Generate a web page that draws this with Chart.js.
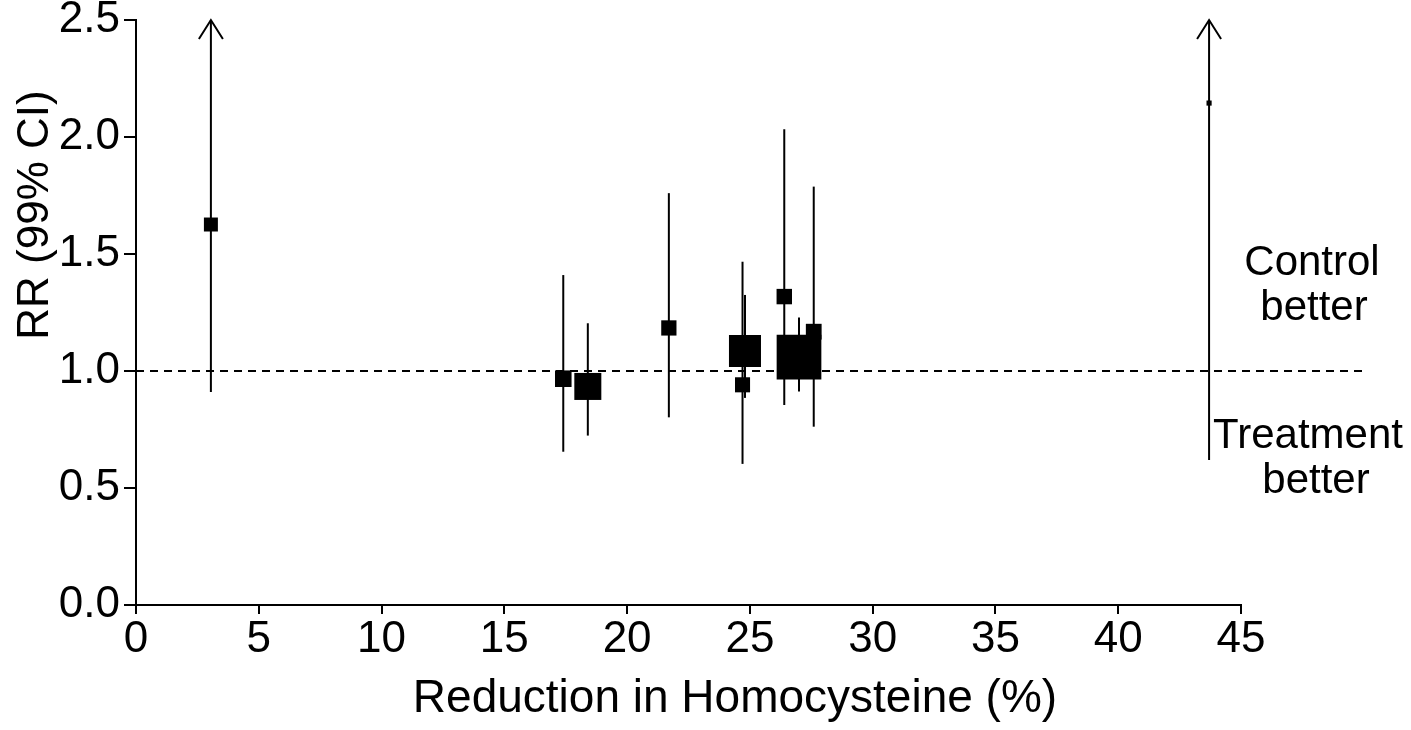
<!DOCTYPE html>
<html>
<head>
<meta charset="utf-8">
<script src="https://cdn.jsdelivr.net/npm/chart.js@4.4.0/dist/chart.umd.min.js"></script>
<style>
  html, body { margin: 0; padding: 0; background: #ffffff; }
  #wrap { width: 1411px; height: 730px; position: relative; }
</style>
</head>
<body>
<div id="wrap"><canvas id="c" width="1411" height="730"></canvas></div>
<script>
// ---- data ----
const reduction = [3.05, 17.4, 18.4, 21.7, 24.7, 24.8, 26.4, 27.0, 27.6, 43.7];   // % reduction in homocysteine
const rr        = [1.626, 0.967, 0.934, 1.184, 0.941, 1.085, 1.318, 1.059, 1.168, 2.145];
const ciLow     = [0.91, 0.655, 0.724, 0.802, 0.603, 0.885, 0.855, 0.912, 0.762, 0.62];
const ciHigh    = [null, 1.41, 1.204, 1.76, 1.467, 1.325, 2.033, 1.229, 1.788, null]; // null = beyond the axis (arrow)
const weights   = [3.7, 5.2, 13.8, 4.4, 4.3, 19.4, 4.5, 37.8, 4.7, 0.5];           // relative study weight (%)
const xTickValues = [0, 5, 10, 15, 20, 25, 30, 35, 40, 45];
const yTickValues = [0.0, 0.5, 1.0, 1.5, 2.0, 2.5];
const referenceRR = 1.0;
const referenceXRange = [0, 50];
const xTitle = 'Reduction in Homocysteine (%)';
const yTitle = 'RR (99% CI)';
const upperNote = ['Control', 'better'];
const lowerNote = ['Treatment', 'better'];

// ---- styling ----
const FONT = "'Liberation Sans', Arial, Helvetica, sans-serif";
const xMin = xTickValues[0], xMax = xTickValues[xTickValues.length - 1];
const yMin = yTickValues[0], yMax = yTickValues[yTickValues.length - 1];
const sideFactor = 7.27; // square side (px) per sqrt(weight)

const datasets = [];
// squares
datasets.push({
  type: 'scatter',
  label: 'RR',
  data: reduction.map((x, i) => ({ x: x, y: rr[i] })),
  pointStyle: 'rect',
  pointRadius: weights.map(w => Math.sqrt(w) * sideFactor / (2 * Math.SQRT1_2)),
  pointHoverRadius: weights.map(w => Math.sqrt(w) * sideFactor / (2 * Math.SQRT1_2)),
  backgroundColor: '#000',
  borderWidth: 0,
  order: 0
});
// CI lines
reduction.forEach((x, i) => {
  datasets.push({
    type: 'line',
    label: 'CI ' + i,
    data: [{ x: x, y: ciLow[i] }, { x: x, y: ciHigh[i] === null ? yMax : ciHigh[i] }],
    borderColor: '#000',
    borderWidth: 2,
    pointRadius: 0,
    fill: false,
    clip: false,
    order: 1
  });
});
// reference line
datasets.push({
  type: 'line',
  label: 'ref',
  data: referenceXRange.map(x => ({ x: x, y: referenceRR })),
  borderColor: '#000',
  borderWidth: 2,
  borderDash: [8, 6],
  pointRadius: 0,
  fill: false,
  clip: false,
  order: 2
});

const annotations = {
  id: 'annotations',
  afterDatasetsDraw(chart) {
    const { ctx, scales: { x, y } } = chart;
    ctx.save();
    ctx.strokeStyle = '#000';
    ctx.lineWidth = 2;
    reduction.forEach((r, i) => {
      if (ciHigh[i] === null) {
        const px = x.getPixelForValue(r), py = y.getPixelForValue(yMax);
        ctx.beginPath();
        ctx.moveTo(px - 12, py + 19);
        ctx.lineTo(px, py);
        ctx.lineTo(px + 12, py + 19);
        ctx.stroke();
      }
    });
    ctx.restore();
  },
  afterDraw(chart) {
    const { ctx } = chart;
    ctx.save();
    ctx.fillStyle = '#000';
    // x title
    ctx.font = '46px ' + FONT;
    ctx.textAlign = 'center';
    ctx.textBaseline = 'alphabetic';
    ctx.fillText(xTitle, 735, 712);
    // y title
    ctx.save();
    ctx.translate(48, 215);
    ctx.rotate(-Math.PI / 2);
    ctx.font = '44px ' + FONT;
    ctx.fillText(yTitle, 0, 0);
    ctx.restore();
    // notes
    ctx.font = '42px ' + FONT;
    ctx.fillText(upperNote[0], 1312, 275);
    ctx.fillText(upperNote[1], 1314, 320);
    ctx.fillText(lowerNote[0], 1308, 448);
    ctx.fillText(lowerNote[1], 1316, 493);
    ctx.restore();
  }
};

new Chart(document.getElementById('c'), {
  data: { datasets: datasets },
  options: {
    responsive: false,
    animation: false,
    devicePixelRatio: 1,
    layout: { autoPadding: false, padding: { left: 0, right: 170, top: 20, bottom: 0 } },
    plugins: { legend: { display: false }, tooltip: { enabled: false } },
    scales: {
      x: {
        type: 'linear',
        min: xMin, max: xMax,
        afterBuildTicks: s => { s.ticks = xTickValues.map(v => ({ value: v })); },
        afterFit: s => { s.height = 125; s.paddingLeft = 0; s.paddingRight = 0; },
        ticks: {
          autoSkip: false, maxRotation: 0, padding: 4,
          color: '#000',
          font: { family: FONT, size: 44, lineHeight: 1 },
          callback: v => String(v)
        },
        grid: { drawOnChartArea: false, drawTicks: true, tickLength: 9, color: '#000', lineWidth: 2 },
        border: { display: true, color: '#000', width: 2 }
      },
      y: {
        type: 'linear',
        min: yMin, max: yMax,
        afterBuildTicks: s => { s.ticks = yTickValues.map(v => ({ value: v })); },
        afterFit: s => { s.width = 136; s.paddingTop = 0; s.paddingBottom = 0; },
        ticks: {
          autoSkip: false, padding: 4,
          color: '#000',
          font: { family: FONT, size: 44, lineHeight: 0.5 },
          callback: v => Number(v).toFixed(1)
        },
        grid: { drawOnChartArea: false, drawTicks: true, tickLength: 12, color: '#000', lineWidth: 2 },
        border: { display: true, color: '#000', width: 2 }
      }
    }
  },
  plugins: [annotations]
});
</script>
</body>
</html>
